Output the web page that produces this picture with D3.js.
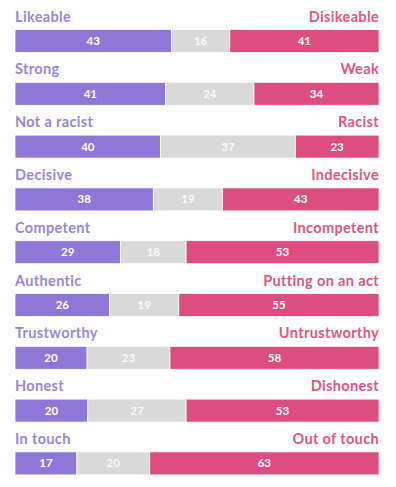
<!DOCTYPE html>
<html lang="en">
<head>
<meta charset="UTF-8">
<title>Trait ratings</title>
<script src="https://cdn.jsdelivr.net/npm/d3@7"></script>
<style>
body { margin: 0; background: #fff; }
.lbl { font-family: Lato, "Open Sans", sans-serif; font-weight: 700; font-size: 14.5px; letter-spacing: 0.35px; }
.val { font-family: Lato, "Open Sans", sans-serif; font-weight: 700; font-size: 11.5px; fill: #fff; }
</style>
</head>
<body>
<div id="chart"></div>
<script>
// data
var positive = ["Likeable", "Strong", "Not a racist", "Decisive", "Competent", "Authentic", "Trustworthy", "Honest", "In touch"];
var negative = ["Disikeable", "Weak", "Racist", "Indecisive", "Incompetent", "Putting on an act", "Untrustworthy", "Dishonest", "Out of touch"];
var posVals = [43, 41, 40, 38, 29, 26, 20, 20, 17];
var midVals = [16, 24, 37, 19, 18, 19, 23, 27, 20];
var negVals = [41, 34, 23, 43, 53, 55, 58, 53, 63];

var colors = ["#8f77d7", "#d9d9d9", "#dd4d80"];
var textColors = ["#9a85dc", "#e0567f"];

var width = 396, height = 487;
var left = 15, right = 379;
var barH = 23;

var svg = d3.select("#chart").append("svg")
  .attr("width", width)
  .attr("height", height);

// row tops
var y = d3.scaleBand()
  .domain(d3.range(positive.length))
  .range([29.5, 29.5 + positive.length * 52.8]);

positive.forEach(function (p, i) {
  var vals = [posVals[i], midVals[i], negVals[i]];
  var total = d3.sum(vals);
  var x = d3.scaleLinear().domain([0, total]).range([left, right]);
  var top = y(i);

  var g = svg.append("g");

  g.append("text")
    .attr("class", "lbl")
    .attr("x", left)
    .attr("y", top - 8)
    .attr("fill", textColors[0])
    .text(p);

  g.append("text")
    .attr("class", "lbl")
    .attr("x", right)
    .attr("y", top - 8)
    .attr("text-anchor", "end")
    .attr("fill", textColors[1])
    .text(negative[i]);

  var cum = 0;
  vals.forEach(function (v, j) {
    var x0 = x(cum), x1 = x(cum + v);
    g.append("rect")
      .attr("x", x0)
      .attr("y", top)
      .attr("width", x1 - x0)
      .attr("height", barH)
      .attr("fill", colors[j])
      .attr("stroke", "#fff")
      .attr("stroke-width", 0.8);
    g.append("text")
      .attr("class", "val")
      .attr("x", (x0 + x1) / 2)
      .attr("y", top + barH / 2 + 4)
      .attr("text-anchor", "middle")
      .attr("fill-opacity", j == 1 ? 0.85 : 1)
      .text(v);
    cum += v;
  });
});
</script>
</body>
</html>
